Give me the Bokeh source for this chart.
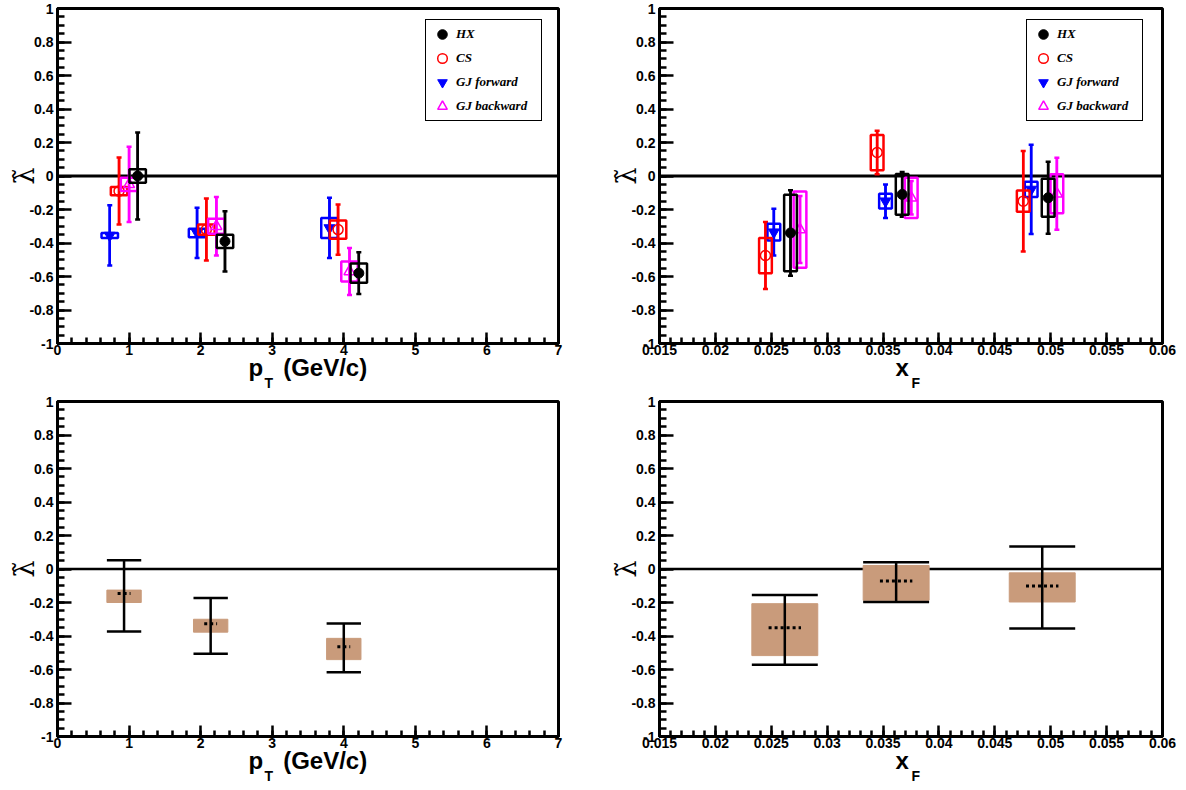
import numpy as np
from bokeh.plotting import figure
from bokeh.layouts import gridplot
from bokeh.models import (ColumnDataSource, Whisker, TeeHead, Span, Title,
                          FixedTicker, Legend, LegendItem)
from bokeh.embed import file_html
from bokeh.resources import INLINE

# ---------------- axis ticks / labels ----------------
pt_ticks = [0, 1, 2, 3, 4, 5, 6, 7]
pt_tick_labels = ["0", "1", "2", "3", "4", "5", "6", "7"]
xf_ticks = [0.015, 0.02, 0.025, 0.03, 0.035, 0.04, 0.045, 0.05, 0.055, 0.06]
xf_tick_labels = ["0.015", "0.02", "0.025", "0.03", "0.035", "0.04",
                  "0.045", "0.05", "0.055", "0.06"]
y_ticks = [-1, -0.8, -0.6, -0.4, -0.2, 0, 0.2, 0.4, 0.6, 0.8, 1]
y_tick_labels = ["-1", "-0.8", "-0.6", "-0.4", "-0.2", "0",
                 "0.2", "0.4", "0.6", "0.8", "1"]

series_names = ["HX", "CS", "GJ forward", "GJ backward"]

# ---------------- top-left: lambda-tilde vs pT, per frame ----------------
pt_hx_x = [1.12, 2.34, 4.21]
pt_hx_y = [0.0, -0.39, -0.58]
pt_hx_stat = [0.26, 0.18, 0.125]
pt_hx_sys = [0.04, 0.04, 0.058]

pt_cs_x = [0.86, 2.08, 3.92]
pt_cs_y = [-0.09, -0.32, -0.32]
pt_cs_stat = [0.20, 0.185, 0.15]
pt_cs_sys = [0.025, 0.03, 0.055]

pt_gjf_x = [0.73, 1.95, 3.80]
pt_gjf_y = [-0.355, -0.34, -0.31]
pt_gjf_stat = [0.18, 0.15, 0.18]
pt_gjf_sys = [0.015, 0.025, 0.06]

pt_gjb_x = [1.00, 2.22, 4.08]
pt_gjb_y = [-0.05, -0.30, -0.57]
pt_gjb_stat = [0.225, 0.175, 0.14]
pt_gjb_sys = [0.04, 0.045, 0.06]

# ---------------- top-right: lambda-tilde vs xF, per frame ----------------
xf_hx_x = [0.02672, 0.03671, 0.04977]
xf_hx_y = [-0.34, -0.11, -0.13]
xf_hx_stat = [0.255, 0.134, 0.215]
xf_hx_sys = [0.228, 0.122, 0.113]

xf_cs_x = [0.02448, 0.03447, 0.04754]
xf_cs_y = [-0.475, 0.14, -0.15]
xf_cs_stat = [0.20, 0.13, 0.30]
xf_cs_sys = [0.105, 0.105, 0.063]

xf_gjf_x = [0.02523, 0.03522, 0.04825]
xf_gjf_y = [-0.335, -0.15, -0.08]
xf_gjf_stat = [0.14, 0.10, 0.267]
xf_gjf_sys = [0.05, 0.044, 0.046]

xf_gjb_x = [0.02757, 0.03752, 0.05055]
xf_gjb_y = [-0.32, -0.13, -0.106]
xf_gjb_stat = [0.20, 0.10, 0.215]
xf_gjb_sys = [0.228, 0.12, 0.117]

# ---------------- bottom-left: combined vs pT ----------------
comb_pt_x = [0.93, 2.14, 4.00]
comb_pt_y = [-0.147, -0.327, -0.464]
comb_pt_stat_lo = [-0.373, -0.506, -0.616]
comb_pt_stat_hi = [0.052, -0.173, -0.325]
comb_pt_sys_lo = [-0.200, -0.377, -0.541]
comb_pt_sys_hi = [-0.126, -0.300, -0.414]

# ---------------- bottom-right: combined vs xF ----------------
comb_xf_x = [0.02621, 0.03617, 0.04924]
comb_xf_y = [-0.351, -0.072, -0.102]
comb_xf_stat_lo = [-0.571, -0.197, -0.355]
comb_xf_stat_hi = [-0.155, 0.040, 0.135]
comb_xf_sys_lo = [-0.517, -0.187, -0.197]
comb_xf_sys_hi = [-0.207, 0.021, -0.023]

# ---------------- styles ----------------
COLORS = {"HX": "#000000", "CS": "#ff0000", "GJ forward": "#0000ff", "GJ backward": "#ff00ff"}
BOX_FILL = "#c99b7b"
SANS = "Liberation Sans"
SERIF = "Liberation Serif"
NB = "\u00a0"


def base_fig(kind, row):
    if kind == "pt":
        xr, mbl, fw, mbr = (0, 7), 57, 501, 44
        ticks, labels = pt_ticks, pt_tick_labels
        minor = [round(v, 3) for v in np.arange(0, 7.0001, 0.2)]
    else:
        xr, mbl, fw, mbr = (0.015, 0.06), 57, 503, 20
        ticks, labels = xf_ticks, xf_tick_labels
        minor = [round(v, 4) for v in np.arange(0.015, 0.06001, 0.001)]
    p = figure(frame_width=fw, frame_height=335, x_range=xr, y_range=(-1, 1),
               output_backend="svg", toolbar_location=None,
               min_border_left=mbl, min_border_right=mbr,
               min_border_top=8, min_border_bottom=50)
    p.xgrid.visible = False
    p.ygrid.visible = False
    p.outline_line_color = "black"
    p.outline_line_width = 3
    p.outline_line_alpha = 1
    p.background_fill_color = "white"
    p.border_fill_color = "white"

    p.xaxis.ticker = FixedTicker(ticks=ticks, minor_ticks=minor)
    p.xaxis.major_label_overrides = {t: l for t, l in zip(ticks, labels)}
    p.yaxis.ticker = FixedTicker(ticks=y_ticks,
                                 minor_ticks=[round(v, 3) for v in np.arange(-1, 1.0001, 0.05)])
    p.yaxis.major_label_overrides = {t: l for t, l in zip(y_ticks, y_tick_labels)}
    for ax, (mj, mn) in ((p.xaxis, (11, 6)), (p.yaxis, (14, 7))):
        ax.axis_line_color = "black"
        ax.axis_line_width = 3
        ax.major_tick_in = mj
        ax.major_tick_out = 0
        ax.minor_tick_in = mn
        ax.minor_tick_out = 0
        ax.major_tick_line_width = 2.5
        ax.minor_tick_line_width = 2.5
        ax.major_tick_line_color = "black"
        ax.minor_tick_line_color = "black"
        ax.major_label_text_font = SANS
        ax.major_label_text_font_style = "bold"
        ax.major_label_text_font_size = "14px"
        ax.major_label_text_color = "black"
    p.xaxis.axis_label = None
    p.xaxis.major_label_standoff = 1
    p.yaxis.major_label_standoff = 4

    # y axis title: lambda tilde, rotated like the ROOT y title
    yax = p.yaxis[0]
    yax.axis_label = "\u03bb\u0303"
    yax.axis_label_text_font = "DejaVu Serif"
    yax.axis_label_text_font_style = "normal"
    yax.axis_label_text_font_size = "27px"
    yax.axis_label_text_color = "black"
    yax.axis_label_standoff = -14
    if "axis_label_orientation" in yax.properties():
        yax.axis_label_orientation = "vertical"

    zero = Span(location=0, dimension="width", line_color="black",
                line_width=3 if row == 0 else 2.5, level="underlay")
    p.add_layout(zero)

    # x axis title with subscript
    if kind == "pt":
        parts = [("p" + NB * 3 + "(GeV/c)", 191, "24px"), ("T", 207, "14px")]
    else:
        parts = [("x", 236, "24px"), ("F", 252, "14px")]
    for txt, off, fs in parts:
        p.add_layout(Title(text=txt, align="left", offset=off, vertical_align="top",
                           standoff=-8, text_font=SANS, text_font_style="bold",
                           text_font_size=fs, text_color="black"), "below")
    return p


def draw_frames(p, data, box_w, loc):
    marker_specs = {
        "HX": dict(marker="circle", fill_color="black", line_color="black", size=10),
        "CS": dict(marker="circle", fill_color=None, line_color="#ff0000", size=10, line_width=1.5),
        "GJ forward": dict(marker="inverted_triangle", fill_color="#0000ff", line_color="#0000ff", size=11),
        "GJ backward": dict(marker="triangle", fill_color=None, line_color="#ff00ff", size=11, line_width=1.5),
    }
    rends = {}
    for name in ["GJ forward", "CS", "GJ backward", "HX"]:
        x, y, stat, sys = (np.array(a, dtype=float) for a in data[name])
        c = COLORS[name]
        src = ColumnDataSource(dict(x=x, y=y, lo=y - stat, hi=y + stat,
                                    l=x - box_w / 2, r=x + box_w / 2,
                                    b=y - sys, t=y + sys))
        p.quad(left="l", right="r", bottom="b", top="t", source=src,
               fill_color=None, line_color=c, line_width=2.5)
        p.segment(x0="x", x1="x", y0="lo", y1="hi", source=src, line_color=c, line_width=2.5)
        p.add_layout(Whisker(source=src, base="x", upper="hi", lower="lo", dimension="height",
                             line_color=c, line_width=2.5,
                             upper_head=TeeHead(size=5, line_color=c, line_width=2.5),
                             lower_head=TeeHead(size=5, line_color=c, line_width=2.5)))
        rends[name] = p.scatter(x="x", y="y", source=src, **marker_specs[name])
    legend = Legend(items=[LegendItem(label=n, renderers=[rends[n]]) for n in series_names],
                    location=loc)
    legend.label_text_font = SERIF
    legend.label_text_font_style = "bold italic"
    legend.label_text_font_size = "13px"
    legend.label_text_color = "black"
    legend.glyph_width = 28
    legend.glyph_height = 24
    legend.label_height = 24
    legend.label_width = 83
    legend.label_standoff = 0
    legend.spacing = 0
    legend.padding = 2
    legend.margin = 0
    legend.border_line_color = "black"
    legend.border_line_width = 1.5
    legend.border_line_alpha = 1
    legend.background_fill_color = "white"
    legend.background_fill_alpha = 1
    p.add_layout(legend)


def draw_combined(p, x, y, slo, shi, ylo, yhi, box_w, dot_w):
    x = np.array(x, dtype=float)
    src = ColumnDataSource(dict(x=x, y=np.array(y), slo=np.array(slo), shi=np.array(shi),
                                ylo=np.array(ylo), yhi=np.array(yhi),
                                l=x - box_w / 2, r=x + box_w / 2,
                                dl=x - dot_w / 2, dr=x + dot_w / 2))
    p.quad(left="l", right="r", bottom="ylo", top="yhi", source=src,
           fill_color=BOX_FILL, line_color=BOX_FILL, line_width=1)
    p.segment(x0="x", x1="x", y0="slo", y1="shi", source=src, line_color="black", line_width=2.5)
    p.segment(x0="l", x1="r", y0="slo", y1="slo", source=src, line_color="black", line_width=2.5)
    p.segment(x0="l", x1="r", y0="shi", y1="shi", source=src, line_color="black", line_width=2.5)
    p.segment(x0="dl", x1="dr", y0="y", y1="y", source=src, line_color="black",
              line_width=3, line_dash="3 3")


p1 = base_fig("pt", 0)
draw_frames(p1, {
    "HX": (pt_hx_x, pt_hx_y, pt_hx_stat, pt_hx_sys),
    "CS": (pt_cs_x, pt_cs_y, pt_cs_stat, pt_cs_sys),
    "GJ forward": (pt_gjf_x, pt_gjf_y, pt_gjf_stat, pt_gjf_sys),
    "GJ backward": (pt_gjb_x, pt_gjb_y, pt_gjb_stat, pt_gjb_sys),
}, 0.23, (368, 222))

p2 = base_fig("xf", 0)
draw_frames(p2, {
    "HX": (xf_hx_x, xf_hx_y, xf_hx_stat, xf_hx_sys),
    "CS": (xf_cs_x, xf_cs_y, xf_cs_stat, xf_cs_sys),
    "GJ forward": (xf_gjf_x, xf_gjf_y, xf_gjf_stat, xf_gjf_sys),
    "GJ backward": (xf_gjb_x, xf_gjb_y, xf_gjb_stat, xf_gjb_sys),
}, 0.00114, (367, 222))

p3 = base_fig("pt", 1)
draw_combined(p3, comb_pt_x, comb_pt_y, comb_pt_stat_lo, comb_pt_stat_hi,
              comb_pt_sys_lo, comb_pt_sys_hi, 0.48, 0.18)

p4 = base_fig("xf", 1)
draw_combined(p4, comb_xf_x, comb_xf_y, comb_xf_stat_lo, comb_xf_stat_hi,
              comb_xf_sys_lo, comb_xf_sys_hi, 0.0059, 0.0029)

grid = gridplot([[p1, p2], [p3, p4]], toolbar_location=None)

open("out.html", "w").write(file_html(grid, INLINE))
